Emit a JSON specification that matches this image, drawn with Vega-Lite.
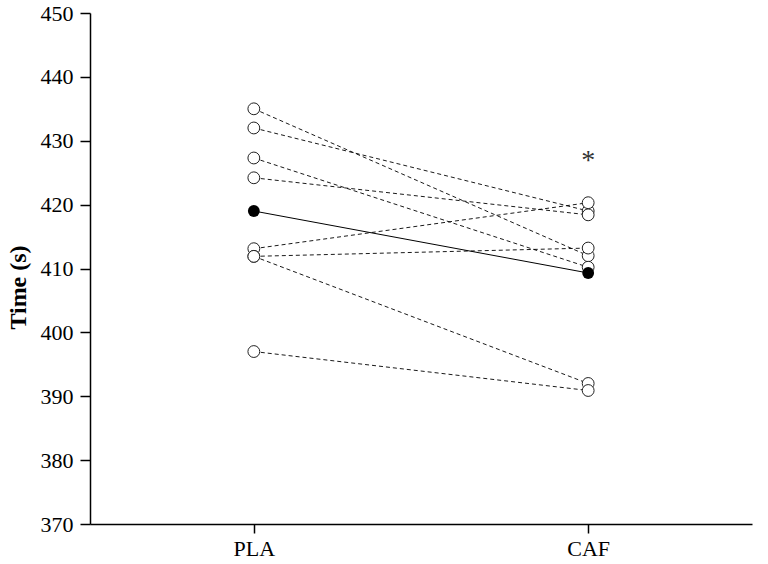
{
  "$schema": "https://vega.github.io/schema/vega-lite/v6.json",
  "autosize": {"type": "none"},
  "padding": {"left": 90, "top": 13, "right": 16, "bottom": 40},
  "width": 662,
  "height": 511,
  "background": "white",
  "datasets": {
    "subjects": [
      {"subject": "S1", "condition": "PLA", "time": 435},
      {"subject": "S1", "condition": "CAF", "time": 412},
      {"subject": "S2", "condition": "PLA", "time": 432},
      {"subject": "S2", "condition": "CAF", "time": 419},
      {"subject": "S3", "condition": "PLA", "time": 427.3},
      {"subject": "S3", "condition": "CAF", "time": 410.2},
      {"subject": "S4", "condition": "PLA", "time": 424.2},
      {"subject": "S4", "condition": "CAF", "time": 418.4},
      {"subject": "S5", "condition": "PLA", "time": 413.1},
      {"subject": "S5", "condition": "CAF", "time": 420.3},
      {"subject": "S6", "condition": "PLA", "time": 411.9},
      {"subject": "S6", "condition": "CAF", "time": 413.2},
      {"subject": "S7", "condition": "PLA", "time": 411.9},
      {"subject": "S7", "condition": "CAF", "time": 392},
      {"subject": "S8", "condition": "PLA", "time": 397},
      {"subject": "S8", "condition": "CAF", "time": 390.9}
    ],
    "means": [
      {"condition": "PLA", "time": 419},
      {"condition": "CAF", "time": 409.3}
    ],
    "sig": [
      {"condition": "CAF", "time": 427.6, "label": "*"}
    ]
  },
  "encoding": {
    "x": {
      "field": "condition",
      "type": "nominal",
      "sort": ["PLA", "CAF"],
      "scale": {"type": "point", "padding": 0.49},
      "axis": {
        "title": null,
        "labelAngle": 0,
        "labelFont": "Liberation Serif",
        "labelFontSize": 22,
        "labelColor": "black",
        "labelPadding": 5,
        "domainColor": "black",
        "domainWidth": 1.5,
        "tickColor": "black",
        "tickWidth": 1.5,
        "tickSize": 9,
        "grid": false
      }
    },
    "y": {
      "field": "time",
      "type": "quantitative",
      "scale": {"domain": [370, 450], "nice": false, "zero": false},
      "axis": {
        "title": "Time (s)",
        "titleFont": "Liberation Serif",
        "titleFontSize": 24,
        "titleFontWeight": "bold",
        "titleColor": "black",
        "titleAngle": -90,
        "titleX": -72,
        "titleY": 274,
        "titleAlign": "center",
        "titleBaseline": "middle",
        "values": [370, 380, 390, 400, 410, 420, 430, 440, 450],
        "labelFont": "Liberation Serif",
        "labelFontSize": 22,
        "labelColor": "black",
        "labelPadding": 7,
        "domainColor": "black",
        "domainWidth": 1.5,
        "tickColor": "black",
        "tickWidth": 1.5,
        "tickSize": 10,
        "grid": false
      }
    }
  },
  "layer": [
    {
      "data": {"name": "subjects"},
      "mark": {"type": "line", "color": "black", "strokeWidth": 0.9, "strokeDash": [4, 3]},
      "encoding": {"detail": {"field": "subject"}}
    },
    {
      "data": {"name": "means"},
      "mark": {"type": "line", "color": "black", "strokeWidth": 1}
    },
    {
      "data": {"name": "subjects"},
      "mark": {"type": "point", "shape": "circle", "filled": false, "fill": "white", "fillOpacity": 1, "stroke": "#222222", "strokeWidth": 1, "size": 140, "opacity": 1}
    },
    {
      "data": {"name": "means"},
      "mark": {"type": "point", "shape": "circle", "filled": true, "color": "black", "size": 140, "opacity": 1}
    },
    {
      "data": {"name": "sig"},
      "mark": {"type": "text", "font": "Liberation Serif", "fontSize": 28, "baseline": "middle", "align": "center", "color": "#333333", "dy": 5},
      "encoding": {"text": {"field": "label"}}
    }
  ],
  "config": {"view": {"stroke": null}}
}
